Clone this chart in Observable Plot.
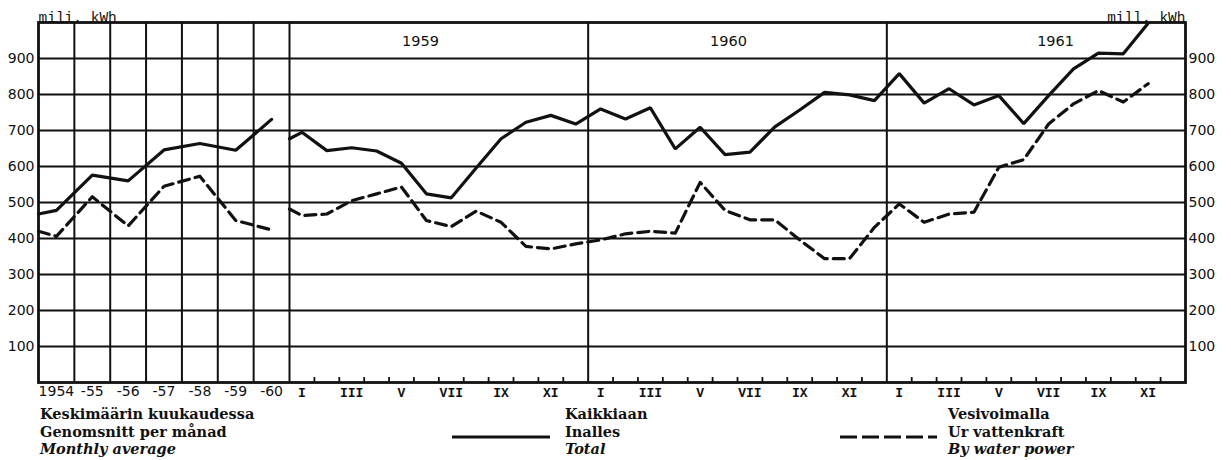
<!DOCTYPE html>
<html><head><meta charset="utf-8">
<script src="https://cdn.jsdelivr.net/npm/d3@7"></script>
<script src="https://cdn.jsdelivr.net/npm/@observablehq/plot@0.6"></script>
<style>
body{margin:0;background:#fff;}
#wrap{position:relative;width:1231px;height:460px;overflow:hidden;}
.leg{position:absolute;font-family:"DejaVu Serif",serif;font-weight:bold;font-size:14.5px;line-height:17.5px;color:#111;white-space:nowrap;}
.leg i{font-style:italic;}
.sample{position:absolute;}
</style></head><body><div id="wrap"></div>
<script>
// ---- data (mill. kWh) ----
const years = ["1954", "-55", "-56", "-57", "-58", "-59", "-60"];
const yearlyTotal = [478, 576, 560, 646, 664, 645, 731];
const yearlyHydro = [406, 516, 435, 545, 573, 450, 424];
// value where each line enters its section (yearly section, monthly section)
const leadInTotal = [468, 677];
const leadInHydro = [420, 482];

const monthYears = ["1959", "1960", "1961"];
const monthLabels = ["I", "", "III", "", "V", "", "VII", "", "IX", "", "XI", ""];
const total1959 = [695, 644, 652, 643, 609, 524, 513, 596, 677, 723, 742, 718];
const total1960 = [760, 732, 763, 649, 709, 633, 640, 710, 757, 806, 799, 783];
const total1961 = [858, 776, 816, 771, 797, 719, 797, 871, 915, 913, 998];
const hydro1959 = [464, 468, 505, 524, 543, 450, 433, 476, 445, 378, 371, 385];
const hydro1960 = [396, 413, 420, 415, 556, 478, 452, 452, 396, 344, 344, 431];
const hydro1961 = [496, 445, 468, 473, 598, 619, 718, 774, 811, 779, 830];

const yTicks = [100, 200, 300, 400, 500, 600, 700, 800, 900];

// ---- layout (x in month units; one yearly cell = c months wide) ----
const c = 1.4407;
const xYear = i => (i + 0.5) * c;
const m0 = 7 * c;
const xMonth = m => m0 + m + 0.5;
const yearLabelOffset = [5.26, 5.64, 6.78];

const totalM = [...total1959, ...total1960, ...total1961];
const hydroM = [...hydro1959, ...hydro1960, ...hydro1961];

const rows = [];
rows.push({x: 0, y: leadInTotal[0], s: "total", seg: "ty"});
yearlyTotal.forEach((v, i) => rows.push({x: xYear(i), y: v, s: "total", seg: "ty"}));
rows.push({x: 0, y: leadInHydro[0], s: "hydro", seg: "hy"});
yearlyHydro.forEach((v, i) => rows.push({x: xYear(i), y: v, s: "hydro", seg: "hy"}));
rows.push({x: m0, y: leadInTotal[1], s: "total", seg: "tm"});
totalM.forEach((v, m) => rows.push({x: xMonth(m), y: v, s: "total", seg: "tm"}));
rows.push({x: m0, y: leadInHydro[1], s: "hydro", seg: "hm"});
hydroM.forEach((v, m) => rows.push({x: xMonth(m), y: v, s: "hydro", seg: "hm"}));

const vLines = [1, 2, 3, 4, 5, 6, 7].map(i => i * c).concat([m0 + 12, m0 + 24]);
const monthTicks = d3.range(1, 36).filter(k => k % 12 !== 0).map(k => m0 + k);
const yearLabs = years.map((t, i) => ({x: xYear(i), t}));
const monthLabs = [];
monthYears.forEach((yy, j) => monthLabels.forEach((t, k) => { if (t) monthLabs.push({x: xMonth(j * 12 + k), t}); }));
const yearTitles = monthYears.map((t, j) => ({x: m0 + j * 12 + yearLabelOffset[j], t}));

const ink = "#111";
const chart = Plot.plot({
  width: 1231, height: 400,
  marginLeft: 38, marginRight: 46, marginTop: 22, marginBottom: 18,
  x: {domain: [0, m0 + 36], axis: null},
  y: {domain: [0, 1000], axis: null},
  style: {background: "#fff", color: ink},
  marks: [
    Plot.ruleY(yTicks, {stroke: ink, strokeWidth: 2}),
    Plot.ruleX(vLines, {stroke: ink, strokeWidth: 2}),
    Plot.tickX(monthTicks, {x: d => d, insetTop: 355, stroke: ink, strokeWidth: 1.8}),
    Plot.line(rows.filter(d => d.s === "total"), {x: "x", y: "y", z: "seg", stroke: ink, strokeWidth: 3.2, strokeLinejoin: "miter"}),
    Plot.line(rows.filter(d => d.s === "hydro"), {x: "x", y: "y", z: "seg", stroke: ink, strokeWidth: 3.2, strokeDasharray: "11,6"}),
    Plot.frame({stroke: ink, strokeWidth: 2.8}),
    Plot.axisY(yTicks, {anchor: "left", tickSize: 0, tickPadding: 4, fontSize: 14, fontFamily: "DejaVu Sans", label: null}),
    Plot.axisY(yTicks, {anchor: "right", tickSize: 0, tickPadding: 3, fontSize: 14, fontFamily: "DejaVu Sans", label: null}),
    Plot.text(yearLabs, {x: "x", text: "t", frameAnchor: "bottom", lineAnchor: "top", dy: 4, fontSize: 14, fontFamily: "DejaVu Sans", fill: ink}),
    Plot.text(monthLabs, {x: "x", text: "t", frameAnchor: "bottom", lineAnchor: "top", dy: 5, fontSize: 13, fontWeight: "bold", fontFamily: "Liberation Mono", fill: ink}),
    Plot.text(yearTitles, {x: "x", text: "t", frameAnchor: "top", lineAnchor: "middle", dy: 19, fontSize: 14.5, fontFamily: "DejaVu Sans", fill: ink}),
    Plot.text(["mili. kWh"], {frameAnchor: "top-left", textAnchor: "start", lineAnchor: "bottom", dy: -1, fontSize: 14.5, fontFamily: "Liberation Mono", fill: ink}),
    Plot.text(["mill. kWh"], {frameAnchor: "top-right", textAnchor: "end", lineAnchor: "bottom", dy: -1, fontSize: 14.5, fontFamily: "Liberation Mono", fill: ink})
  ]
});
const wrap = document.getElementById("wrap");
wrap.appendChild(chart);

// ---- legend (below the SVG) ----
const legend = [
  {left: 40, lines: ["Keskimäärin kuukaudessa", "Genomsnitt per månad", "Monthly average"], sample: null},
  {left: 565, lines: ["Kaikkiaan", "Inalles", "Total"], sample: {x1: 452, x2: 550, dash: null}},
  {left: 948, lines: ["Vesivoimalla", "Ur vattenkraft", "By water power"], sample: {x1: 840, x2: 937, dash: "17,5"}}
];
legend.forEach(l => {
  const div = document.createElement("div");
  div.className = "leg";
  div.style.left = l.left + "px";
  div.style.top = "405px";
  div.innerHTML = l.lines[0] + "<br>" + l.lines[1] + "<br><i>" + l.lines[2] + "</i>";
  wrap.appendChild(div);
  if (l.sample) {
    const svg = d3.create("svg").attr("class", "sample")
      .attr("width", l.sample.x2 - l.sample.x1).attr("height", 8)
      .style("left", l.sample.x1 + "px").style("top", "433px");
    svg.append("line").attr("x1", 0).attr("x2", l.sample.x2 - l.sample.x1).attr("y1", 4).attr("y2", 4)
      .attr("stroke", ink).attr("stroke-width", 3).attr("stroke-dasharray", l.sample.dash);
    wrap.appendChild(svg.node());
  }
});
</script></body></html>
